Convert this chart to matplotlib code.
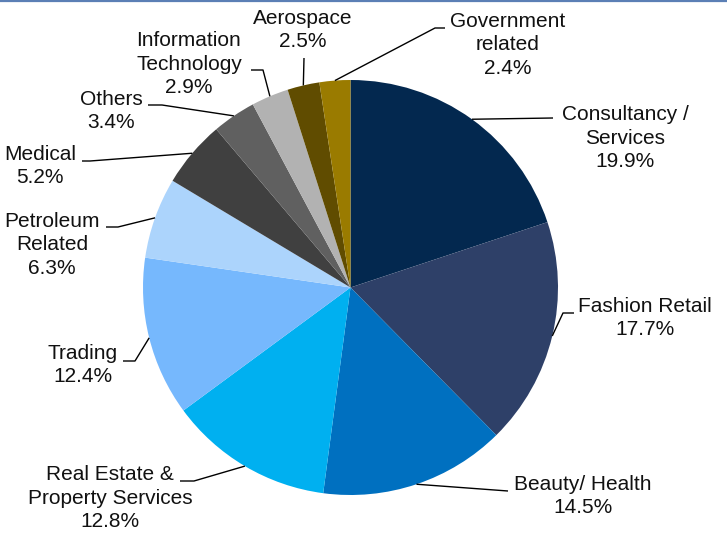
import numpy as np
import matplotlib.pyplot as plt
from matplotlib.lines import Line2D
plt.rcParams['font.family'] = ['Liberation Sans', 'DejaVu Sans']

W, H = 727, 534

sectors = ['Consultancy /\nServices', 'Fashion Retail', 'Beauty/ Health',
           'Real Estate &\nProperty Services', 'Trading', 'Petroleum\nRelated',
           'Medical', 'Others', 'Information\nTechnology', 'Aerospace',
           'Government\nrelated']
shares = [19.9, 17.7, 14.5, 12.8, 12.4, 6.3, 5.2, 3.4, 2.9, 2.5, 2.4]
colors = ['#03284f', '#2e4068', '#0070c0', '#00b0f0', '#76b8fd', '#acd4fc',
          '#404040', '#606060', '#b2b2b2', '#604c00', '#9a7b00']

# label block centres and leader elbows, in pixels from the top-left corner
label_xy = [(625, 138), (645, 318), (583, 496), (110, 498), (83, 365),
            (52, 245), (40, 166), (111, 111), (189, 64), (303, 30), (508, 45)]
leader_pts = [[(553, 118)],
              [(563, 313), (574, 313)],
              [(508, 491)],
              [(194, 481), (180, 481)],
              [(135, 361), (123, 361)],
              [(118, 227), (106, 227)],
              [(90, 161), (82, 161)],
              [(162, 105), (148, 105)],
              [(263, 70), (251, 70)],
              [(304, 58)],
              [(435, 28), (445, 28)]]

fig = plt.figure(figsize=(W / 100, H / 100), dpi=100)
ax = fig.add_axes([0, 0, 1, 1])

cx, cy, r = 350.5, H - 287.5, 207.5
wedges, _ = ax.pie(shares, colors=colors, startangle=90, counterclock=False,
                   center=(cx, cy), radius=r, wedgeprops={'linewidth': 0})
ax.set_xlim(0, W)
ax.set_ylim(0, H)
ax.axis('off')

for w, name, val, (lx, ly), pts in zip(wedges, sectors, shares, label_xy, leader_pts):
    mid = np.deg2rad((w.theta1 + w.theta2) / 2)
    xs = [cx + r * np.cos(mid)] + [p[0] for p in pts]
    ys = [cy + r * np.sin(mid)] + [H - p[1] for p in pts]
    ax.plot(xs, ys, color='black', lw=1.0, solid_capstyle='butt')
    ax.text(lx, H - ly, '%s\n%.1f%%' % (name, val), ha='center', va='center',
            multialignment='center', fontsize=15, linespacing=1.33, color='#111111')

# thin blue rule along the top edge
fig.add_artist(Line2D([0, 1], [1 - 1 / H, 1 - 1 / H], transform=fig.transFigure,
                      color='#5b7fb5', lw=1.6))

fig.savefig('out.png', dpi=100, facecolor='white')
